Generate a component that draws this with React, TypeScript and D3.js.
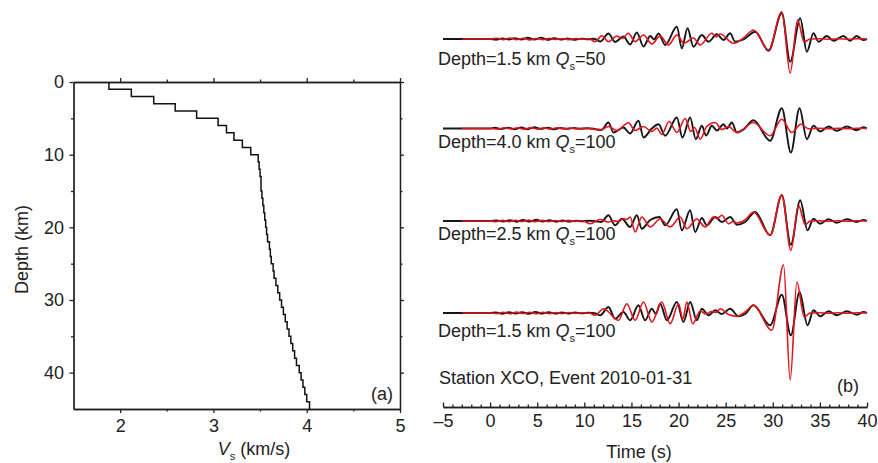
import React, { useEffect, useRef } from 'react';
import * as d3 from 'd3';

// (a) layered shear-wave velocity model: layer top depth (km) and Vs (km/s)
const LAYER_TOP = [0, 1, 2, 3, 4, 5, 6, 7, 8, 9, 10, 11, 12, 13, 14, 15, 16, 17, 18, 19, 20, 21, 22,
  23, 24, 25, 26, 27, 28, 29, 30, 31, 32, 33, 34, 35, 36, 37, 38, 39, 40, 41, 42, 43, 44];
const LAYER_VS = [1.88, 2.12, 2.36, 2.59, 2.82, 3.05, 3.14, 3.22, 3.31, 3.40,
  3.48, 3.49, 3.50, 3.51, 3.51, 3.52, 3.53, 3.54, 3.55, 3.56,
  3.57, 3.58, 3.60, 3.61, 3.62, 3.64, 3.65, 3.67, 3.69, 3.71,
  3.73, 3.75, 3.77, 3.79, 3.81, 3.83, 3.85, 3.87, 3.89, 3.92,
  3.94, 3.96, 3.98, 4.00, 4.03];
const MODEL_BOTTOM = 45;

const VS_TICKS = [2, 3, 4, 5];
const VS_MINOR = [2.5, 3.5, 4.5];
const DEPTH_TICKS = [0, 10, 20, 30, 40];
const DEPTH_MINOR = [5, 15, 25, 35];

// (b) waveforms: [time (s), amplitude], observed (black) and synthetic (red)
const T1_OBS = [[-5, 0], [0, 0], [0.6, -0.8], [1.3, 0.6], [2, -0.5], [2.6, 0.9], [3.3, -0.6], [4, 1.2], [4.7, -0.5], [5.4, 1.4], [6.1, -0.8], [6.8, 0.8], [7.5, -0.6], [8.2, 0.5], [8.9, -0.7], [9.6, 0.3], [10.4, -0.3], [11, 0.2], [11.7, -2.5], [12.56, 5.5], [13.27, -3], [14.15, 2.5], [14.86, -5.5], [15.57, 6.5], [16.28, -7.5], [17, 3], [17.4, -0.5], [17.87, 5.5], [18.58, -6], [19.82, 12.3], [20.35, -9.3], [20.95, 10.7], [21.58, -7.7], [22.47, 4], [23.18, -2.7], [24.07, 4.7], [24.77, -1], [25.48, 5.7], [26, -2.7], [26.89, -0.5], [28.13, 7.3], [29.55, -11.7], [30.96, 25.7], [31.85, -22.7], [32.91, 20.7], [33.62, -12.7], [34.32, 5.7], [34.85, -2.7], [35.74, 3], [36.44, -1.7], [37.5, 3], [38.2, -1.7], [38.9, 3], [39.6, -1], [40, 0]];
const T1_SYN = [[-3, 0], [0, 0], [0.7, 0.8], [1.4, -0.7], [2.1, 1], [2.8, -0.6], [3.5, 0.7], [4.2, -0.9], [4.9, 0.5], [5.6, -0.6], [6.3, 0.6], [7, -0.5], [7.7, 0.4], [8.4, -0.6], [9.1, 0.5], [9.8, -0.3], [10.5, 0.2], [11.15, -2.7], [11.86, 3.3], [12.56, -2.7], [13.45, 3], [14, 0.5], [14.68, 5.7], [15.39, -2.7], [16.28, 4], [17.16, -5], [18.05, 3], [18.93, -6], [19.82, 4], [20.59, -4.3], [21.58, 1], [22.29, -6], [23.53, 5.7], [24, 2], [24.42, 5], [25.83, -4.3], [26.89, 1], [27.95, 9], [29.55, -11], [30.96, 27.3], [31.85, -34], [32.63, 19], [33.34, -3], [33.96, 0], [35, 0.3], [36, -0.3], [37, 0.3], [38, -0.2], [39, 0.2], [40, 0]];

const T2_OBS = [[-5, 0], [0, 0], [0.5, 0.7], [1.2, -0.6], [1.9, 0.9], [2.6, -0.8], [3.3, 1.1], [4, -0.7], [4.7, 1.3], [5.4, -0.5], [6.1, 0.9], [6.8, -0.9], [7.5, 0.6], [8.2, -0.4], [8.9, 0.6], [9.6, -0.3], [10.4, 0.3], [11.2, -0.6], [11.8, -1.5], [12.56, 6], [13.09, -4], [14.15, 1], [14.86, -5], [15.74, 7.7], [16.28, -9], [17.16, 0], [17.87, 4.3], [18.58, -7.3], [19.82, 11], [20.41, -9], [21.23, 11], [21.83, -10.7], [22.47, 2.7], [22.93, -7], [23.53, 2.7], [24.07, -2], [24.77, 4.3], [25.13, 0], [25.66, 6], [26.19, -4], [26.89, -1], [27.95, 8.3], [29.72, -12.3], [30.96, 20.3], [31.92, -24], [32.84, 20.3], [33.62, -10.7], [34.32, 2.7], [35.03, -3], [35.92, 2], [36.8, -2.3], [37.86, 2], [38.9, -1.7], [39.6, 1.3], [40, 0]];
const T2_SYN = [[-3, 0], [0, 0], [0.8, -0.6], [1.5, 0.8], [2.2, -0.5], [2.9, 0.7], [3.6, -0.8], [4.3, 0.9], [5, -0.6], [5.7, 0.6], [6.4, -0.5], [7.1, 0.7], [7.8, -0.4], [8.5, 0.5], [9.2, -0.5], [10, 0.3], [10.8, -0.4], [11.68, -1.5], [12.56, 2], [13.45, -2], [14.68, 5.7], [15.39, -2], [16.28, 2], [17.16, -3], [17.7, 0.5], [18.22, -6], [18.99, 7], [19.82, -4], [20.7, 10], [21.3, -3], [21.7, 1], [22.29, -10.7], [22.99, 2], [23.89, 6], [24.6, -1], [25.3, 2], [26.19, -4], [27.95, 6], [29.72, -7.3], [30.96, 9.3], [32.02, -4], [32.98, 4.3], [33.8, -0.3], [35, 0.3], [36, -0.3], [37, 0.2], [38, -0.3], [39, 0.2], [40, 0]];

const T3_OBS = [[-5, 0], [0, 0], [0.7, 0.6], [1.4, -0.5], [2.1, 0.8], [2.8, -0.7], [3.5, 1], [4.2, -0.6], [4.9, 1.2], [5.6, -0.5], [6.3, 0.8], [7, -0.7], [7.7, 0.5], [8.4, -0.6], [9.1, 0.4], [9.8, -0.3], [10.5, 0.3], [11.2, -0.2], [11.8, -1], [12.56, 5.7], [13.27, -4.3], [13.98, 2.3], [14.86, -6], [15.57, 5.7], [16.1, -7.7], [16.99, 1], [17.97, 4], [18.58, -4.3], [19.82, 11.7], [20.35, -9.3], [21.23, 10.7], [21.76, -11], [22.47, 3], [23, -4.3], [23.89, 4], [24.6, -1], [25.48, 4], [26.19, -3.7], [27.07, -1], [28.13, 9], [29.72, -14.3], [30.96, 25.7], [31.92, -23.7], [32.91, 20.7], [33.69, -9.3], [34.32, 2.3], [35.03, -2.7], [35.92, 1.7], [36.8, -1.7], [37.86, 1.7], [38.92, -1], [39.63, 1], [40, 0]];
const T3_SYN = [[-3, 0], [0, 0], [0.6, -0.7], [1.3, 0.6], [2, -0.8], [2.7, 0.7], [3.4, -0.5], [4.1, 0.9], [4.8, -0.7], [5.5, 0.6], [6.2, -0.6], [6.9, 0.5], [7.6, -0.5], [8.3, 0.6], [9, -0.4], [9.8, 0.3], [10.62, -2.7], [11.68, 1.5], [12.56, -1], [13.09, 0.3], [13.6, -0.5], [14.15, 2.3], [14.5, 1.5], [14.86, 4], [15.39, -11], [16.1, 4], [16.99, -6], [18.05, 2], [19.11, -6], [20.17, 4], [20.88, -7.7], [21.94, 2], [22.82, -6], [23.71, 4], [24.1, 2.5], [24.6, 5.7], [25.3, -2.7], [25.8, -0.5], [26.19, -2], [27.07, 1], [27.95, 9], [29.72, -14.3], [30.96, 26.3], [31.92, -29.3], [32.73, 15.7], [33.44, -3.7], [33.97, 0], [35, 0.3], [36, -0.3], [37, 0.3], [38, -0.2], [39, 0.2], [40, 0]];

const T4_OBS = [[-5, 0], [0, 0], [0.6, 0.6], [1.3, -0.7], [2, 0.9], [2.7, -0.5], [3.4, 0.8], [4.1, -0.8], [4.8, 1.1], [5.5, -0.6], [6.2, 0.9], [6.9, -0.6], [7.6, 0.6], [8.3, -0.5], [9, 0.5], [9.7, -0.4], [10.5, 0.3], [11.1, -0.2], [11.68, -2.3], [12.56, 6], [13.27, -5.7], [14.15, 1], [14.86, -7.3], [15.74, 7.7], [16.45, -7.3], [17.16, 4.3], [17.6, -1], [18.05, 9.3], [18.76, -7.3], [19.82, 11], [20.52, -9], [21.23, 11], [21.94, -7.3], [22.47, 4.3], [23.18, -2.3], [23.89, 2.7], [24.6, -1], [25.48, 4.3], [26.36, -3.3], [27.07, -1], [27.95, 7.7], [29.72, -12.3], [30.96, 18.3], [31.92, -22.3], [32.84, 21], [33.69, -12.3], [34.32, 2.7], [35.03, -3.3], [35.92, 1.7], [36.8, -2.3], [37.86, 1.7], [38.92, -1.7], [39.63, 1], [40, 0]];
const T4_SYN = [[-3, 0], [0, 0], [0.7, -0.6], [1.4, 0.8], [2.1, -0.7], [2.8, 0.9], [3.5, -0.5], [4.2, 0.7], [4.9, -0.8], [5.6, 0.8], [6.3, -0.6], [7, 0.5], [7.7, -0.6], [8.4, 0.5], [9.1, -0.4], [9.9, 0.3], [10.6, -0.2], [11.15, -2.3], [12.03, 4.3], [13.62, -7.3], [14.51, 9.3], [15.39, -7.3], [16.28, 11], [17.16, -9], [18.22, 11], [19.11, -10.7], [20, 9.3], [20.45, -6], [20.88, 11], [21.5, -10.7], [22.3, 2], [22.9, -1], [23.53, 1.5], [24, 0.5], [24.42, 4.3], [25.3, -1.5], [26.19, -3.3], [27.07, 1], [27.95, 7.7], [29.9, -17.3], [31.14, 48.3], [31.85, -67], [32.56, 31], [33.33, -4], [33.97, 0], [35, 0.3], [36, -0.3], [37, 0.3], [38, -0.2], [39, 0.2], [40, 0]];

const TRACE_OBS = [T1_OBS, T2_OBS, T3_OBS, T4_OBS];
const TRACE_SYN = [T1_SYN, T2_SYN, T3_SYN, T4_SYN];
const TRACE_DEPTH = ['1.5', '4.0', '2.5', '1.5'];
const TRACE_QS = ['50', '100', '100', '100'];
const TIME_TICKS = [-5, 0, 5, 10, 15, 20, 25, 30, 35, 40];

// layout
const W = 878, H = 463;
const FONT = "'Liberation Sans', Arial, Helvetica, sans-serif";
const TEXT = '#222';
const TRACE_BASE = [39, 128.5, 221, 313];
const LABEL_DY = [26, 19.5, 19, 23.5];

export default function App() {
  const svgRef = useRef<SVGSVGElement>(null);

  useEffect(() => {
    const svg = d3.select(svgRef.current);
    svg.selectAll('*').remove();

    // ---------- panel (a) ----------
    const xV = d3.scaleLinear().domain([1.5, 5]).range([73.5, 400]);
    const yD = d3.scaleLinear().domain([0, 45]).range([82, 409]);

    const left = svg.append('g');

    const styleAxis = (g) => {
      g.attr('font-family', FONT).attr('font-size', 18);
      g.selectAll('path,line').attr('stroke', TEXT).attr('stroke-width', 1.3);
      g.selectAll('text').attr('fill', TEXT);
    };

    const none = () => '';
    left.append('g').attr('transform', `translate(0,${yD(45)})`)
      .call(d3.axisBottom(xV).tickValues(VS_TICKS).tickSizeInner(4).tickSizeOuter(0).tickPadding(6).tickFormat(d3.format('d')))
      .call(styleAxis);
    left.append('g').attr('transform', `translate(0,${yD(45)})`)
      .call(d3.axisBottom(xV).tickValues(VS_MINOR).tickSizeInner(2.5).tickSizeOuter(0).tickFormat(none))
      .call(styleAxis);
    left.append('g').attr('transform', `translate(0,${yD(0)})`)
      .call(d3.axisTop(xV).tickValues(VS_TICKS).tickSizeInner(4).tickSizeOuter(0).tickFormat(none))
      .call(styleAxis);
    left.append('g').attr('transform', `translate(0,${yD(0)})`)
      .call(d3.axisTop(xV).tickValues(VS_MINOR).tickSizeInner(2.5).tickSizeOuter(0).tickFormat(none))
      .call(styleAxis);
    left.append('g').attr('transform', `translate(${xV(1.5)},0)`)
      .call(d3.axisLeft(yD).tickValues(DEPTH_TICKS).tickSizeInner(4).tickSizeOuter(0).tickPadding(5.5).tickFormat(d3.format('d')))
      .call(styleAxis);
    left.append('g').attr('transform', `translate(${xV(1.5)},0)`)
      .call(d3.axisLeft(yD).tickValues(DEPTH_MINOR).tickSizeInner(2.5).tickSizeOuter(0).tickFormat(none))
      .call(styleAxis);
    left.append('g').attr('transform', `translate(${xV(5)},0)`)
      .call(d3.axisRight(yD).tickValues(DEPTH_TICKS).tickSizeInner(4).tickSizeOuter(0).tickFormat(none))
      .call(styleAxis);
    left.append('g').attr('transform', `translate(${xV(5)},0)`)
      .call(d3.axisRight(yD).tickValues(DEPTH_MINOR).tickSizeInner(2.5).tickSizeOuter(0).tickFormat(none))
      .call(styleAxis);

    const model = LAYER_TOP.map((d, i) => ({ d, v: LAYER_VS[i] }));
    model.push({ d: MODEL_BOTTOM, v: LAYER_VS[LAYER_VS.length - 1] });
    const stair = d3.line<{ d: number; v: number }>()
      .x(p => xV(p.v)).y(p => yD(p.d)).curve(d3.curveStepBefore);
    left.append('path').datum(model)
      .attr('d', stair).attr('fill', 'none').attr('stroke', '#111').attr('stroke-width', 1.5);

    left.append('text').attr('x', 393).attr('y', 400).attr('text-anchor', 'end')
      .attr('font-family', FONT).attr('font-size', 18).attr('fill', TEXT).text('(a)');

    const xl = left.append('text').attr('x', 254).attr('y', 455).attr('text-anchor', 'middle')
      .attr('font-family', FONT).attr('font-size', 18).attr('fill', TEXT);
    xl.append('tspan').attr('font-style', 'italic').text('V');
    xl.append('tspan').attr('font-size', 11).attr('dy', 5).text('s');
    xl.append('tspan').attr('dy', -5).text(' (km/s)');

    left.append('text').attr('transform', `translate(28,${(yD(0) + yD(45)) / 2 + 4}) rotate(-90)`)
      .attr('text-anchor', 'middle').attr('font-family', FONT).attr('font-size', 18).attr('fill', TEXT)
      .text('Depth (km)');

    // ---------- panel (b) ----------
    const xT = d3.scaleLinear().domain([-5, 40]).range([443, 867]);
    const amp = d3.scaleLinear().domain([-1, 1]).range([1, -1]);
    const right = svg.append('g');

    const axisY = 407;
    right.append('g').attr('transform', `translate(0,${axisY})`)
      .call(d3.axisBottom(xT).tickValues(TIME_TICKS).tickSizeInner(-4.5).tickSizeOuter(0).tickPadding(7)
        .tickFormat(d => (d < 0 ? '\u2013' + Math.abs(d) : String(d))))
      .call(styleAxis);
    right.append('g').attr('transform', `translate(0,${axisY})`)
      .call(d3.axisBottom(xT).tickValues(d3.range(-5, 41, 1).filter(t => t % 5 !== 0))
        .tickSizeInner(-2.5).tickSizeOuter(0).tickFormat(none))
      .call(styleAxis);

    const wave = d3.line<number[]>().x(p => xT(p[0])).y(p => amp(p[1])).curve(d3.curveMonotoneX);

    TRACE_OBS.forEach((obs, i) => {
      const g = right.append('g').attr('transform', `translate(0,${TRACE_BASE[i]})`);
      g.append('path').datum(obs).attr('d', wave).attr('fill', 'none')
        .attr('stroke', '#161616').attr('stroke-width', 1.9).attr('stroke-linejoin', 'round');
      g.append('path').datum(TRACE_SYN[i]).attr('d', wave).attr('fill', 'none')
        .attr('stroke', '#e3141b').attr('stroke-width', 1.6).attr('stroke-linejoin', 'round');

      const t = g.append('text').attr('x', 438).attr('y', LABEL_DY[i])
        .attr('font-family', FONT).attr('font-size', 18).attr('fill', TEXT);
      t.append('tspan').text(`Depth=${TRACE_DEPTH[i]} km `);
      t.append('tspan').attr('font-style', 'italic').text('Q');
      t.append('tspan').attr('font-size', 11).attr('dy', 5).text('s');
      t.append('tspan').attr('dy', -5).text(`=${TRACE_QS[i]}`);
    });

    right.append('text').attr('x', 439).attr('y', 384)
      .attr('font-family', FONT).attr('font-size', 18).attr('fill', TEXT)
      .text('Station XCO, Event 2010-01-31');
    right.append('text').attr('x', 859).attr('y', 392).attr('text-anchor', 'end')
      .attr('font-family', FONT).attr('font-size', 18).attr('fill', TEXT).text('(b)');
    right.append('text').attr('x', 639).attr('y', 458).attr('text-anchor', 'middle')
      .attr('font-family', FONT).attr('font-size', 18).attr('fill', TEXT).text('Time (s)');
  }, []);

  return (
    <svg ref={svgRef} width={W} height={H}
      style={{ position: 'absolute', left: 0, top: 0, background: '#fff' }} />
  );
}
